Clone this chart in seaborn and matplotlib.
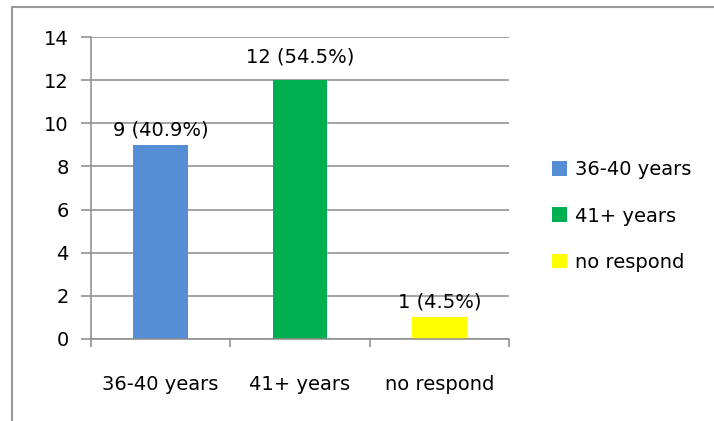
import matplotlib
matplotlib.use("Agg")
import matplotlib.pyplot as plt
import seaborn as sns
import pandas as pd
from matplotlib.patches import Rectangle

categories = ["36-40 years", "41+ years", "no respond"]
counts = [9, 12, 1]
percent_labels = ["9 (40.9%)", "12 (54.5%)", "1 (4.5%)"]
colors = ["#558ED5", "#00B050", "#FFFF00"]
yticks = [0, 2, 4, 6, 8, 10, 12, 14]

sns.set_theme(style="white")
plt.rcParams["font.family"] = ["DejaVu Sans"]
plt.rcParams["text.color"] = "black"

df = pd.DataFrame({"cat": categories, "n": counts})

fig = plt.figure(figsize=(7.14, 4.21), dpi=100)
ax = fig.add_axes([91/714, 1 - 339/421, (509 - 91)/714, (339 - 37)/421])

sns.barplot(data=df, x="cat", y="n", hue="cat", palette=colors, width=0.39,
            dodge=False, legend=True, ax=ax, saturation=1, linewidth=0)

ax.set_ylim(0, 14)
ax.set_xlim(-0.5, 2.5)
ax.set_yticks(yticks)
ax.set_yticklabels([str(v) for v in yticks], fontsize=14)
ax.yaxis.grid(True, color="#8a8a8a", linewidth=1.1)
ax.set_axisbelow(True)
for s in ["top", "right"]:
    ax.spines[s].set_visible(False)
for s in ["left", "bottom"]:
    ax.spines[s].set_color("#8a8a8a")
    ax.spines[s].set_linewidth(1.1)
ax.set_xlabel("")
ax.set_ylabel("")
ax.tick_params(axis="y", left=True, length=7, color="#8a8a8a", width=1.1, pad=9, labelcolor="black")
ax.set_xticks([0, 1, 2])
ax.set_xticklabels(categories, fontsize=14)
ax.tick_params(axis="x", which="major", bottom=False, length=0, pad=26, labelcolor="black")
ax.set_xticks([-0.5, 0.5, 1.5, 2.5], minor=True)
ax.tick_params(axis="x", which="minor", bottom=True, length=6, color="#8a8a8a", width=1.1)

label_offsets = [7, 13, 7]
for i, (v, lab) in enumerate(zip(counts, percent_labels)):
    ax.annotate(lab, (i, v), xytext=(0, label_offsets[i]), textcoords="offset points",
                ha="center", va="baseline", fontsize=14, color="black")

handles, labels = ax.get_legend_handles_labels()
leg = ax.legend(handles, labels, loc="center left", bbox_to_anchor=(534/714, 1 - 216/421),
                bbox_transform=fig.transFigure, frameon=False, fontsize=14,
                handlelength=0.8, handleheight=0.8, handletextpad=0.4, labelspacing=1.4)
for t in leg.get_texts():
    t.set_color("black")

fig.patches.append(Rectangle((12/714, -0.1), 1.2, 1 - 7/421 + 0.1, transform=fig.transFigure,
                             fill=False, edgecolor="#9a9a9a", linewidth=1.5))

fig.savefig("out.png", dpi=100)
